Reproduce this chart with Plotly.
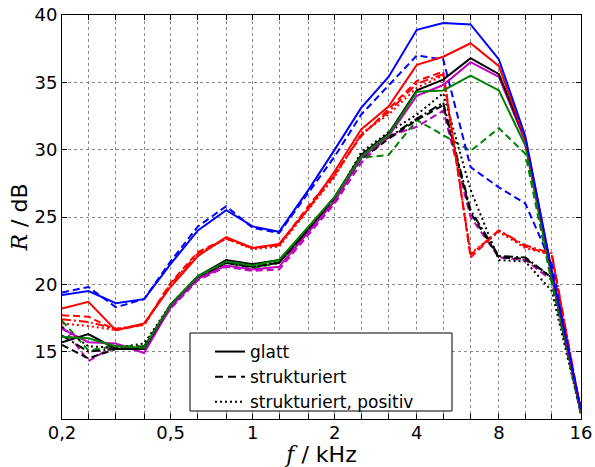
import plotly.graph_objects as go
import math

freqs = [0.2, 0.25, 0.315, 0.4, 0.5, 0.63, 0.8, 1.0, 1.25, 1.6, 2.0, 2.5, 3.15, 4.0, 5.0, 6.3, 8.0, 10.0, 12.5, 16.0]

blue_solid   = [19.2, 19.5, 18.6, 18.9, 21.5, 24.0, 25.5, 24.3, 23.9, 27.0, 30.0, 33.1, 35.4, 38.9, 39.4, 39.3, 36.7, 31.0, 21.0, 10.7]
blue_dashed  = [19.4, 19.8, 18.3, 18.9, 21.7, 24.3, 25.8, 24.2, 23.8, 26.8, 29.5, 32.6, 34.8, 37.0, 36.7, 28.7, 27.2, 26.0, 21.5, 10.5]
red_solid    = [18.2, 18.7, 16.6, 17.1, 19.8, 22.1, 23.5, 22.7, 23.0, 25.6, 28.4, 31.5, 33.2, 36.3, 36.9, 37.9, 36.2, 30.8, 21.0, 10.6]
red_dashed   = [17.7, 17.6, 16.6, 17.0, 20.1, 22.4, 23.4, 22.7, 22.9, 25.8, 28.2, 31.0, 33.0, 35.1, 35.8, 22.0, 24.0, 22.8, 22.2, 10.5]
red_dotted   = [17.1, 16.9, 16.6, 17.0, 19.9, 22.2, 23.4, 22.6, 22.8, 25.5, 28.0, 31.2, 32.6, 34.6, 35.5, 22.3, 23.9, 22.7, 22.2, 10.5]
red_dashdot  = [17.4, 17.2, 16.7, 17.0, 20.0, 22.3, 23.4, 22.7, 22.9, 25.6, 28.1, 31.1, 32.8, 34.9, 35.6, 22.2, 24.0, 22.9, 22.3, 10.5]
black_solid  = [15.7, 16.3, 15.2, 15.2, 18.5, 20.6, 21.8, 21.5, 21.8, 24.2, 26.5, 29.6, 31.2, 34.4, 35.2, 36.8, 35.6, 30.8, 20.8, 10.6]
black_dashed = [15.5, 14.5, 15.2, 15.3, 18.4, 20.5, 21.6, 21.3, 21.6, 24.0, 26.3, 29.3, 30.8, 32.2, 33.3, 25.3, 22.0, 21.9, 20.5, 10.5]
black_dotted = [16.8, 15.4, 15.3, 15.6, 18.5, 20.6, 21.7, 21.4, 21.7, 24.1, 26.3, 29.8, 31.3, 32.6, 34.2, 27.0, 21.8, 21.7, 19.5, 10.4]
black_dashdot= [16.2, 15.0, 15.2, 15.4, 18.4, 20.5, 21.6, 21.3, 21.6, 24.0, 26.2, 29.4, 30.9, 32.3, 33.5, 25.5, 22.1, 22.0, 20.5, 10.5]
green_solid  = [16.1, 16.0, 15.4, 15.3, 18.5, 20.6, 21.7, 21.4, 21.8, 24.3, 26.5, 29.5, 31.1, 34.3, 34.4, 35.5, 34.4, 30.3, 20.5, 10.5]
green_dashed = [17.3, 15.1, 15.4, 15.4, 18.3, 20.4, 21.6, 21.2, 21.6, 24.0, 26.2, 29.4, 29.6, 32.2, 31.1, 29.9, 31.6, 29.7, 20.1, 10.3]
mag_solid    = [16.7, 15.7, 15.6, 14.9, 18.3, 20.4, 21.4, 21.1, 21.3, 23.9, 26.2, 29.4, 31.0, 34.0, 34.8, 36.5, 35.4, 30.6, 20.6, 10.5]
mag_dashed   = [16.9, 14.3, 15.5, 15.2, 18.2, 20.3, 21.3, 21.0, 21.1, 23.7, 26.0, 29.0, 31.0, 31.7, 32.9, 25.0, 22.0, 21.8, 20.3, 10.4]

xtick_labels = {0.2: "0,2", 0.5: "0,5", 1.0: "1", 2.0: "2", 4.0: "4", 8.0: "8", 16.0: "16"}
ytick_vals = [15, 20, 25, 30, 35, 40]
legend_names = ["glatt", "strukturiert", "strukturiert, positiv"]

BLUE, RED, BLACK, GREEN, MAG = "#0000ff", "#ff0000", "#000000", "#008000", "#bf00bf"
DASH, DOT, DASHDOT = "7px,4px", "2px,3px", "9px,3px,2px,3px"

series = [
    (mag_dashed, MAG, DASH), (green_dashed, GREEN, DASH),
    (black_dashdot, BLACK, DASHDOT), (black_dotted, BLACK, DOT), (black_dashed, BLACK, DASH),
    (red_dashdot, RED, DASHDOT), (red_dotted, RED, DOT), (red_dashed, RED, DASH),
    (blue_dashed, BLUE, DASH),
    (mag_solid, MAG, "solid"), (black_solid, BLACK, "solid"), (green_solid, GREEN, "solid"),
    (red_solid, RED, "solid"), (blue_solid, BLUE, "solid"),
]

fig = go.Figure()
for vals, col, dash in series:
    fig.add_trace(go.Scatter(x=freqs, y=vals, mode="lines", showlegend=False,
                             line=dict(color=col, width=2, dash=dash)))

for name, dash in zip(legend_names, ["solid", "8px,5px", DOT]):
    fig.add_trace(go.Scatter(x=[None], y=[None], mode="lines", name=name,
                             line=dict(color=BLACK, width=2, dash=dash)))

# plot area in pixels: x 62..581, y 15..419
L, R_, T, B = 62, 14, 15, 48
W, H = 595, 467
pw, ph = W - L - R_, H - T - B
def px2paper_x(px): return (px - L) / pw
def px2paper_y(py): return (H - B - py) / ph

fig.add_shape(type="rect", xref="paper", yref="paper",
              x0=px2paper_x(190), x1=px2paper_x(452),
              y0=px2paper_y(411), y1=px2paper_y(333),
              line=dict(color="black", width=1), fillcolor="white", layer="above")

font = "DejaVu Sans"
fig.update_layout(
    width=W, height=H,
    margin=dict(l=L, r=R_, t=T, b=B),
    plot_bgcolor="white", paper_bgcolor="white",
    font=dict(family=font, size=17, color="black"),
    legend=dict(x=px2paper_x(210), y=px2paper_y(334), xanchor="left", yanchor="top",
                borderwidth=0, bgcolor="rgba(0,0,0,0)",
                font=dict(size=17), tracegroupgap=0),
)
fig.update_xaxes(
    type="log", range=[math.log10(0.2), math.log10(16)],
    tickvals=freqs, ticktext=[xtick_labels.get(f, "") for f in freqs],
    ticks="inside", ticklen=5, tickcolor="black",
    showline=True, linecolor="black", linewidth=1, mirror="ticks",
    showgrid=True, gridcolor="#8a8a8a", griddash="dot", gridwidth=1,
    zeroline=False, tickfont=dict(size=18), automargin=False,
    ticklabelstandoff=-3,
    title=dict(text="<i><span style='font-family:DejaVu Serif'>f</span></i> / kHz",
               font=dict(size=22), standoff=5),
)
fig.update_yaxes(
    range=[10, 40], tickvals=ytick_vals,
    ticks="inside", ticklen=5, tickcolor="black",
    showline=True, linecolor="black", linewidth=1, mirror="ticks",
    showgrid=True, gridcolor="#8a8a8a", griddash="dot", gridwidth=1,
    zeroline=False, tickfont=dict(size=18), automargin=False,
    title=dict(text="<i><span style='font-family:DejaVu Serif'>R</span></i> / dB",
               font=dict(size=22), standoff=0),
)
fig.write_html("out.html", config={"displayModeBar": False},
               post_script="document.body.style.margin='0';document.body.style.overflow='hidden';")
